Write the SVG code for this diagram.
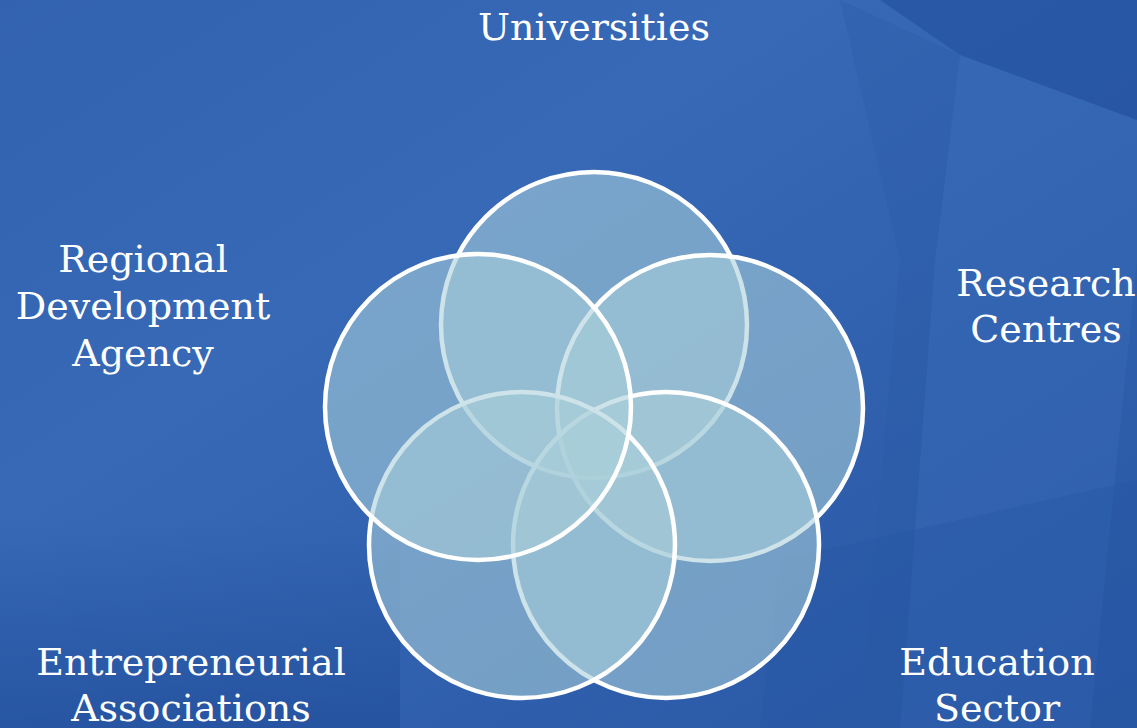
<svg xmlns="http://www.w3.org/2000/svg" width="1137" height="728" viewBox="0 0 1137 728">
<defs>
<linearGradient id="bg" x1="0" y1="0" x2="1" y2="1">
<stop offset="0" stop-color="#3262b0"/>
<stop offset="0.35" stop-color="#3769b7"/>
<stop offset="0.7" stop-color="#2f5fac"/>
<stop offset="1" stop-color="#2856a4"/>
</linearGradient>
<linearGradient id="dark" x1="0" y1="0" x2="0" y2="1">
<stop offset="0" stop-color="#1f4b98" stop-opacity="0"/>
<stop offset="1" stop-color="#1f4b98" stop-opacity="0.6"/>
</linearGradient>
<style>
.c{fill:#a8cfd9;fill-opacity:0.58;stroke:#ffffff;stroke-width:4.5}
.t{font-family:"DejaVu Serif","Liberation Serif",serif;font-size:38px;fill:#ffffff;text-anchor:middle}
</style>
</defs>
<rect width="1137" height="728" fill="url(#bg)"/>
<polygon points="880,0 1137,0 1137,120 960,55" fill="#214f9c" opacity="0.6"/>
<polygon points="960,55 1137,120 1137,260 1090,728 900,728 935,260" fill="#3a6cba" opacity="0.4"/>
<polygon points="840,0 960,55 935,260 900,728 860,728 900,260" fill="#2a58a6" opacity="0.3"/>
<rect x="0" y="520" width="400" height="208" fill="url(#dark)"/>
<polygon points="780,560 1137,480 1137,728 760,728" fill="#2555a2" opacity="0.35"/>
<g id="venn">
<g id="circle-top"><circle class="c" cx="594" cy="325" r="153"/></g>
<g id="circle-right"><circle class="c" cx="710" cy="408" r="153"/></g>
<g id="circle-bottom-right"><circle class="c" cx="666" cy="545" r="153"/></g>
<g id="circle-bottom-left"><circle class="c" cx="522" cy="545" r="153"/></g>
<g id="circle-left"><circle class="c" cx="478" cy="407" r="153"/></g>
</g>
<g id="connectors"></g>
<g id="label-universities"><text class="t" x="594" y="40">Universities</text></g>
<g id="label-rda"><text class="t" x="143" y="272">Regional</text><text class="t" x="143" y="319">Development</text><text class="t" x="143" y="366">Agency</text></g>
<g id="label-research"><text class="t" x="1046" y="296">Research</text><text class="t" x="1046" y="342">Centres</text></g>
<g id="label-entrepreneurial"><text class="t" x="191" y="675">Entrepreneurial</text><text class="t" x="191" y="721">Associations</text></g>
<g id="label-education"><text class="t" x="997" y="675">Education</text><text class="t" x="997" y="721">Sector</text></g>
</svg>
